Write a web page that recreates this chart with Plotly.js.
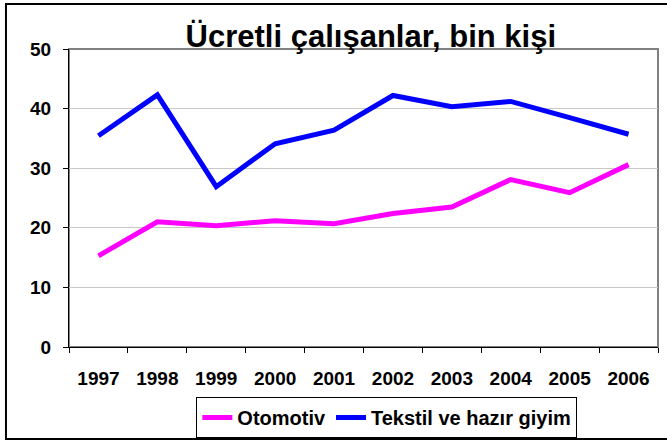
<!DOCTYPE html>
<html>
<head>
<meta charset="utf-8">
<script src="https://cdn.plot.ly/plotly-3.0.1.min.js"></script>
<style>
html,body{margin:0;padding:0;background:#fff;}
#chart{width:667px;height:441px;}
</style>
</head>
<body>
<div id="chart"></div>
<script>
const years = ["1997","1998","1999","2000","2001","2002","2003","2004","2005","2006"];
const otomotiv = [15.3, 21.0, 20.35, 21.2, 20.7, 22.4, 23.5, 28.1, 25.9, 30.6];
const tekstil = [35.45, 42.3, 26.9, 34.1, 36.4, 42.2, 40.3, 41.2, 38.5, 35.7];
const seriesNames = ["Otomotiv", "Tekstil ve hazır giyim"];
const yTicks = [0, 10, 20, 30, 40, 50];

const FONT = "Arial, 'Liberation Sans', sans-serif";

const traces = [
  {x: years, y: otomotiv, name: seriesNames[0], type: "scatter", mode: "lines",
   line: {color: "#FF00FF", width: 5}},
  {x: years, y: tekstil, name: seriesNames[1], type: "scatter", mode: "lines",
   line: {color: "#0000FF", width: 5}}
];

const layout = {
  width: 667, height: 441,
  margin: {l: 69, r: 9, t: 49, b: 94},
  paper_bgcolor: "#ffffff",
  plot_bgcolor: "#ffffff",
  font: {family: FONT, color: "#000", size: 19},
  title: {
    text: "<b>Ücretli çalışanlar, bin kişi</b>",
    font: {family: FONT, size: 31, color: "#000"},
    x: 0.556, xref: "container", xanchor: "center",
    y: 0.918, yref: "container", yanchor: "middle"
  },
  xaxis: {
    type: "category",
    range: [-0.5, years.length - 0.5],
    tickson: "boundaries",
    ticks: "outside", ticklen: 5, tickcolor: "#000", tickwidth: 1,
    showline: true, linecolor: "#000", linewidth: 1,
    showgrid: false, zeroline: false,
    automargin: false,
    tickfont: {family: FONT, size: 19, color: "#000", weight: "bold"},
    ticklabelstandoff: 14,
    fixedrange: true
  },
  yaxis: {
    range: [0, 50],
    tickvals: yTicks,
    ticktext: yTicks.map(String),
    ticks: "outside", ticklen: 5, tickcolor: "#000", tickwidth: 1,
    showline: true, linecolor: "#000", linewidth: 1,
    showgrid: true, gridcolor: "#c8c8c8", gridwidth: 1,
    zeroline: false,
    automargin: false,
    tickfont: {family: FONT, size: 19, color: "#000", weight: "bold"},
    ticklabelstandoff: 8,
    fixedrange: true
  },
  showlegend: true,
  legend: {
    orientation: "h",
    xref: "container", yref: "container",
    x: 0.580, xanchor: "center",
    y: 0.1, yanchor: "top",
    bordercolor: "#000", borderwidth: 1,
    bgcolor: "#fff",
    font: {family: FONT, size: 20, color: "#000", weight: "bold"},
    traceorder: "normal"
  },
  shapes: [
    {type: "rect", xref: "paper", yref: "paper", x0: 0, x1: 1, y0: 0, y1: 1,
     line: {color: "#808080", width: 2}, layer: "below"},
    {type: "rect", xref: "paper", yref: "paper", x0: -0.107, x1: 1.1, y0: -0.309, y1: 1.151,
     line: {color: "#000", width: 2}, fillcolor: "rgba(0,0,0,0)", layer: "above"}
  ]
};

Plotly.newPlot("chart", traces, layout, {displayModeBar: false, staticPlot: true});
</script>
</body>
</html>
